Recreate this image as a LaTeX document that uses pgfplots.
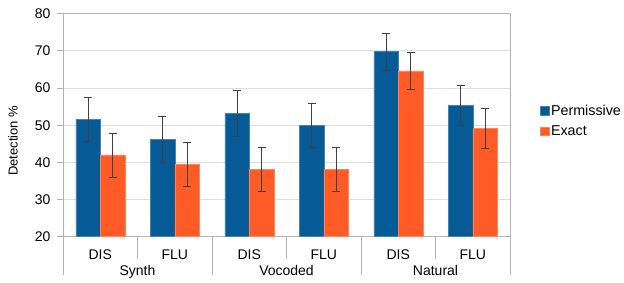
\documentclass[border=0pt]{standalone}
\usepackage{pgfplots}
\pgfplotsset{compat=1.18}
\usepackage{fontspec}
\setmainfont{Liberation Sans}
\definecolor{pblue}{HTML}{065A96}
\definecolor{porange}{HTML}{FF5B26}
\definecolor{axgray}{HTML}{B3B3B3}
\definecolor{grd}{HTML}{DDDDDD}
\begin{document}
\begin{tikzpicture}
\path[use as bounding box] (0pt,0pt) rectangle (624pt,282pt);
\begin{axis}[
  at={(63pt,45.3pt)}, anchor=south west,
  scale only axis, width=447pt, height=223pt,
  clip=false,
  ymin=20, ymax=80, ytick={20,30,...,80},
  xmin=-0.5, xmax=5.5, xtick={0,...,5},
  xticklabels={DIS,FLU,DIS,FLU,DIS,FLU},
  ybar=0pt, bar width=24.5pt,
  ymajorgrids, grid style={grd, line width=0.8pt},
  axis line style={axgray, line width=0.8pt},
  tick align=outside, major tick length=6pt,
  ytick pos=left, xtick pos=bottom,
  ytick style={axgray, line width=0.8pt},
  xtick style={draw=none},
  /pgf/number format/assume math mode=true,
  tick label style={font=\fontsize{14}{16}\selectfont},
  yticklabel style={anchor=east, xshift=-3pt},
  xticklabel style={anchor=base, yshift=-17pt},
  ylabel={Detection \%},
  ylabel style={at={(axis description cs:-0.112,0.43)}, anchor=center, font=\fontsize{13}{15}\selectfont},
  legend style={draw=none, at={(axis description cs:1.062,0.52)}, anchor=west,
    font=\fontsize{14.3}{16}\selectfont, row sep=5pt, inner sep=2pt},
  legend cell align=left,
  legend image code/.code={\fill[#1] (0pt,-4.2pt) rectangle (8.6pt,4.2pt);},
]
\addplot[fill=pblue, draw=pblue!75!white, line width=0.5pt,
  error bars/.cd, y dir=both, y explicit,
  error bar style={draw=black!75, line width=0.6pt},
  error mark options={rotate=90, mark size=4pt, draw=black!75, line width=0.6pt}]
  coordinates {(0,51.6) +- (0,6.0) (1,46.2) +- (0,6.2) (2,53.2) +- (0,6.1)
               (3,50.0) +- (0,6.0) (4,69.8) +- (0,4.9) (5,55.3) +- (0,5.4)};
\addplot[fill=porange, draw=porange!75!white, line width=0.5pt,
  error bars/.cd, y dir=both, y explicit,
  error bar style={draw=black!75, line width=0.6pt},
  error mark options={rotate=90, mark size=4pt, draw=black!75, line width=0.6pt}]
  coordinates {(0,42.0) +- (0,5.9) (1,39.5) +- (0,6.0) (2,38.2) +- (0,5.9)
               (3,38.2) +- (0,5.9) (4,64.6) +- (0,5.0) (5,49.2) +- (0,5.4)};
\legend{Permissive, Exact}
\foreach \xx in {0.5,2.5,4.5} {
  \edef\tmp{\noexpand\draw[axgray, line width=0.8pt] (axis cs:\xx,20) -- ++(0pt,-22pt);}\tmp
}
\foreach \xx in {-0.5,1.5,3.5,5.5} {
  \edef\tmp{\noexpand\draw[axgray, line width=0.8pt] (axis cs:\xx,20) -- ++(0pt,-38pt);}\tmp
}
\node[anchor=base, font=\fontsize{14}{16}\selectfont] at ([yshift=-38.8pt]axis cs:0.5,20) {Synth};
\node[anchor=base, font=\fontsize{14}{16}\selectfont] at ([yshift=-38.8pt]axis cs:2.5,20) {Vocoded};
\node[anchor=base, font=\fontsize{14}{16}\selectfont] at ([yshift=-38.8pt]axis cs:4.5,20) {Natural};
\end{axis}
\end{tikzpicture}
\end{document}
